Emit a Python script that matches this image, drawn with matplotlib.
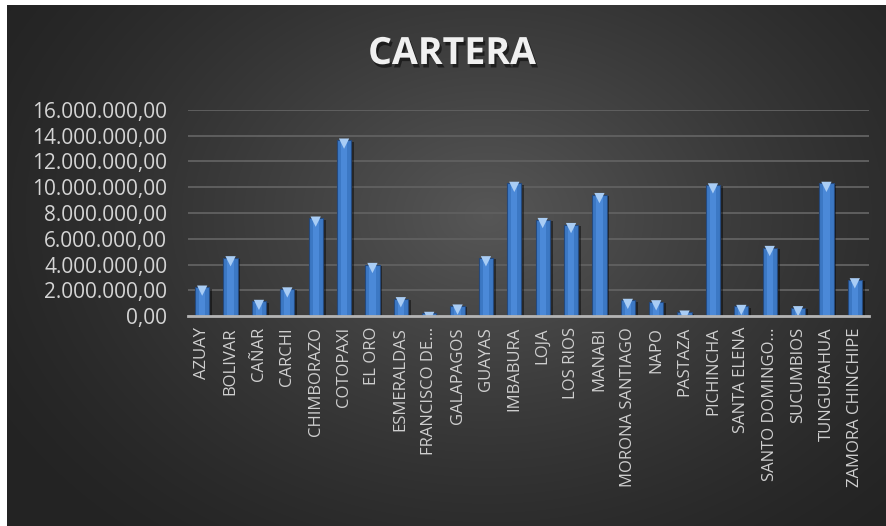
import numpy as np
import matplotlib
matplotlib.use("Agg")
import matplotlib.pyplot as plt
import matplotlib.patheffects as pe
from matplotlib.ticker import FuncFormatter, MultipleLocator
from matplotlib.transforms import offset_copy

plt.rcParams['font.family'] = ['Open Sans', 'DejaVu Sans']

provincias = [
    "AZUAY", "BOLIVAR", "CAÑAR", "CARCHI", "CHIMBORAZO", "COTOPAXI", "EL ORO",
    "ESMERALDAS", "FRANCISCO DE…", "GALAPAGOS", "GUAYAS", "IMBABURA", "LOJA",
    "LOS RIOS", "MANABI", "MORONA SANTIAGO", "NAPO", "PASTAZA", "PICHINCHA",
    "SANTA ELENA", "SANTO DOMINGO…", "SUCUMBIOS", "TUNGURAHUA", "ZAMORA CHINCHIPE",
]
cartera = [
    2240000, 4520000, 1130000, 2100000, 7600000, 13660000, 4000000,
    1340000, 200000, 770000, 4520000, 10300000, 7490000,
    7100000, 9430000, 1210000, 1100000, 300000, 10180000,
    740000, 5320000, 640000, 10300000, 2810000,
]
titulo = "CARTERA"

W, H = 887, 526
fig = plt.figure(figsize=(W / 100, H / 100), dpi=100, facecolor="white")

# dark radial background
bg = fig.add_axes([7 / W, 0, (W - 7) / W, (H - 5) / H], zorder=-5)
yy, xx = np.mgrid[0:521, 0:880]
cx, cy = 480, 210
r = np.sqrt(((xx - cx) / 560.0) ** 2 + ((yy - cy) / 420.0) ** 2)
r = np.clip(r, 0, 1)
edge, center = 0.14, 0.34
val = edge + (center - edge) * (1 - r) ** 1.3
img = np.dstack([val, val, val])
bg.imshow(img, aspect="auto", interpolation="bilinear")
bg.set_axis_off()

ax = fig.add_axes([188 / W, 1 - 316 / H, (869 - 188) / W, (316 - 110) / H])
ax.set_facecolor("none")

x = np.arange(len(provincias))
bars = ax.bar(x, cartera, width=0.5, color="#3c78c4", edgecolor="#25497c",
              linewidth=0.8, zorder=3)
for b in bars:
    b.set_path_effects([pe.SimplePatchShadow(offset=(2, -1), shadow_rgbFace="black", alpha=0.45),
                        pe.Normal()])
# inner highlight strip
ax.bar(x, cartera, width=0.22, color="#4b89d8", linewidth=0, zorder=4)
# bevel caps
cap_tr = offset_copy(ax.transData, fig=fig, x=0, y=-3.5, units="dots")
ax.scatter(x, cartera, marker="v", s=55, color="#a9cdf5", edgecolors="none",
           transform=cap_tr, zorder=5)

ax.set_xlim(-0.5, len(provincias) - 0.5)
ax.set_ylim(0, 16000000)
ax.yaxis.set_major_locator(MultipleLocator(2000000))
ax.yaxis.set_major_formatter(FuncFormatter(
    lambda v, p: f"{v:,.2f}".replace(",", "X").replace(".", ",").replace("X", ".")))
ax.grid(axis="y", color="#5f5f5f", linewidth=1.4, zorder=0)
ax.set_axisbelow(True)

for s in ["top", "right", "left"]:
    ax.spines[s].set_visible(False)
ax.spines["bottom"].set_color("#b4b4b4")
ax.spines["bottom"].set_linewidth(2)
ax.spines["bottom"].set_zorder(6)

ax.set_xticks(x)
ax.set_xticklabels(provincias, rotation=90, ha="center", va="top")
ax.tick_params(axis="x", length=0, pad=8, labelsize=12, labelcolor="#cfcfcf")
ax.tick_params(axis="y", length=0, pad=15, labelsize=15, labelcolor="#d4d4d4")

fig.text(452 / W, 1 - 54 / H, titulo, ha="center", va="center", fontsize=27,
         fontweight="bold", color="#f0f0f0",
         path_effects=[pe.SimplePatchShadow(offset=(1.5, -2.5), shadow_rgbFace="black", alpha=0.5),
                       pe.Normal()])

fig.savefig("out.png", dpi=100, facecolor=fig.get_facecolor())
